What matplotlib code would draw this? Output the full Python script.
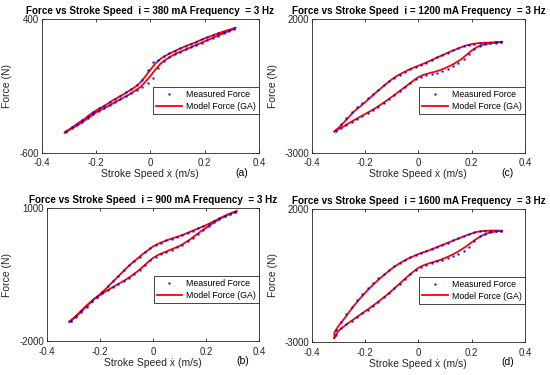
import matplotlib
matplotlib.use("Agg")
import matplotlib.pyplot as plt

plt.rcParams['font.family'] = ['Liberation Sans', 'DejaVu Sans']

# stroke speed grids (m/s)
speed_model = [-0.315, -0.30, -0.28, -0.26, -0.24, -0.22, -0.20, -0.18, -0.16, -0.14, -0.12,
               -0.10, -0.08, -0.06, -0.04, -0.02, 0.00, 0.02, 0.04, 0.06, 0.08, 0.10,
               0.12, 0.14, 0.16, 0.18, 0.20, 0.22, 0.24, 0.26, 0.28, 0.30, 0.315]
speed_meas = [-0.31, -0.29, -0.27, -0.25, -0.23, -0.21, -0.19, -0.17, -0.15, -0.13, -0.11,
              -0.09, -0.07, -0.05, -0.03, -0.01, 0.01, 0.03, 0.05, 0.07, 0.09, 0.11,
              0.13, 0.15, 0.17, 0.19, 0.21, 0.23, 0.25, 0.27, 0.29, 0.31]

# (a) i = 380 mA
model_up_a = [-450, -428, -400, -372, -345, -312, -285, -262, -238, -212, -188,
              -165, -140, -115, -82, -35, 20, 70, 105, 130, 150, 170,
              188, 205, 220, 238, 255, 270, 285, 300, 313, 325, 335]
model_lo_a = [-450, -433, -410, -385, -358, -330, -300, -278, -258, -235, -212,
              -190, -168, -142, -115, -75, -28, 25, 70, 100, 125, 145,
              163, 180, 198, 215, 232, 250, 268, 285, 302, 318, 335]
meas_up_a = [-440, -412, -385, -355, -325, -296, -270, -248, -222, -198, -175,
             -150, -125, -95, -55, 20, 75, 95, 120, 142, 162, 180,
             198, 212, 230, 248, 262, 278, 292, 306, 318, 330]
meas_lo_a = [-444, -420, -395, -368, -342, -312, -288, -266, -245, -222, -200,
             -178, -152, -130, -112, -80, -40, 30, 85, 112, 135, 155,
             172, 190, 205, 222, 240, 258, 276, 294, 310, 326]

# (c) i = 1200 mA
model_up_c = [-2210, -2080, -1880, -1660, -1450, -1290, -1120, -940, -760, -590, -420,
              -265, -130, -20, 80, 170, 250, 330, 420, 510, 600, 690,
              780, 860, 940, 1010, 1060, 1090, 1105, 1115, 1125, 1135, 1150]
model_lo_c = [-2210, -2130, -2020, -1900, -1780, -1670, -1560, -1450, -1330, -1200, -1060,
              -920, -770, -620, -470, -320, -180, -90, -30, 20, 80, 160,
              250, 360, 490, 650, 820, 950, 1030, 1075, 1105, 1130, 1150]
meas_up_c = [-2150, -1950, -1720, -1500, -1300, -1130, -960, -800, -640, -490, -340,
             -200, -80, 30, 120, 200, 280, 370, 460, 560, 650, 740,
             830, 910, 980, 1040, 1080, 1100, 1110, 1120, 1130, 1145]
meas_lo_c = [-2190, -2090, -1980, -1860, -1740, -1630, -1520, -1400, -1280, -1140, -1000,
             -850, -700, -550, -400, -250, -170, -110, -60, -10, 60, 140,
             240, 360, 500, 700, 880, 990, 1050, 1090, 1115, 1140]

# (b) i = 900 mA
model_up_b = [-1560, -1490, -1390, -1270, -1150, -1040, -940, -830, -710, -590, -470,
              -350, -240, -140, -40, 50, 140, 200, 250, 295, 335, 375,
              420, 470, 520, 570, 620, 680, 740, 800, 855, 900, 935]
model_lo_b = [-1560, -1480, -1370, -1250, -1140, -1040, -960, -880, -810, -740, -670,
              -600, -520, -430, -330, -220, -120, -50, 0, 50, 100, 150,
              220, 300, 390, 480, 560, 640, 720, 790, 850, 900, 935]
meas_up_b = [-1540, -1460, -1340, -1220, -1100, -990, -880, -760, -640, -520, -400,
             -290, -190, -90, 10, 100, 170, 225, 275, 315, 355, 395,
             445, 495, 545, 595, 650, 710, 770, 830, 880, 920]
meas_lo_b = [-1545, -1440, -1320, -1200, -1090, -1000, -920, -850, -780, -710, -640,
             -565, -480, -385, -280, -170, -90, -30, 20, 70, 120, 180,
             255, 340, 430, 520, 600, 680, 755, 820, 875, 915]

# (d) i = 1600 mA
model_up_d = [-2650, -2400, -2150, -1880, -1620, -1380, -1160, -950, -760, -580, -410,
              -250, -110, 10, 120, 210, 300, 370, 440, 520, 600, 680,
              760, 840, 920, 1000, 1070, 1130, 1160, 1175, 1180, 1180, 1170]
model_lo_d = [-2850, -2580, -2420, -2270, -2130, -1990, -1850, -1710, -1560, -1410, -1250,
              -1080, -900, -720, -540, -370, -220, -120, -50, 10, 70, 150,
              240, 340, 460, 590, 740, 880, 1000, 1080, 1130, 1160, 1170]
meas_up_d = [-2550, -2250, -1950, -1680, -1420, -1190, -980, -790, -610, -450, -300,
             -160, -40, 70, 170, 260, 340, 410, 490, 570, 650, 730,
             810, 890, 970, 1040, 1110, 1150, 1170, 1180, 1180, 1175]
meas_lo_d = [-2720, -2490, -2340, -2200, -2060, -1920, -1790, -1640, -1490, -1330, -1170,
             -990, -810, -630, -450, -300, -180, -100, -30, 30, 90, 160,
             230, 310, 420, 580, 800, 960, 1060, 1110, 1150, 1165]

panels = [
    ("380", (-600, 400), "(a)", [0.0758, 0.5933, 0.395, 0.356], -0.137, model_up_a, model_lo_a, meas_up_a, meas_lo_a),
    ("1200", (-3000, 2000), "(c)", [0.5667, 0.5933, 0.3878, 0.356], -0.16, model_up_c, model_lo_c, meas_up_c, meas_lo_c),
    ("900", (-2000, 1000), "(b)", [0.0849, 0.0899, 0.3865, 0.3547], -0.165, model_up_b, model_lo_b, meas_up_b, meas_lo_b),
    ("1600", (-3000, 2000), "(d)", [0.5667, 0.088, 0.3878, 0.3555], -0.16, model_up_d, model_lo_d, meas_up_d, meas_lo_d),
]

fig = plt.figure(figsize=(5.5, 3.75), dpi=100)

for cur, ylim, tag, pos, ylab_x, mu, ml, su, sl in panels:
    ax = fig.add_axes(pos)
    mx = speed_model + speed_model[::-1] + speed_model[:1]
    my = ml + mu[::-1] + ml[:1]
    sx = speed_meas + speed_meas[::-1]
    sy = sl + su[::-1]
    ax.plot(sx, sy, ls='none', marker='s', ms=2.0, mec='none', color='#0000ff',
            label='Measured Force', zorder=3)
    ax.plot(mx, my, color='#ff0000', lw=1.3, label='Model Force (GA)', zorder=2)
    ax.set_xlim(-0.4, 0.4)
    ax.set_ylim(*ylim)
    ax.set_xticks([-0.4, -0.2, 0, 0.2, 0.4])
    ax.set_xticklabels(['-0.4', '-0.2', '0', '0.2', '0.4'])
    ax.set_yticks(list(ylim))
    ax.set_yticklabels([str(v) for v in ylim])
    ax.tick_params(direction='in', top=True, right=True, length=2.5, width=0.6,
                   labelsize=7, colors='#262626', pad=2)
    ax.tick_params(axis='x', pad=4)
    for s in ax.spines.values():
        s.set_color('#262626')
        s.set_linewidth(0.6)
    ax.set_title('Force vs Stroke Speed  i = %s mA Frequency  = 3 Hz' % cur,
                 fontsize=7.1, fontweight='bold', pad=3.5)
    ax.set_xlabel('Stroke Speed \u1e8b (m/s)', fontsize=7.5, color='#262626', labelpad=1)
    ax.set_ylabel('Force (N)', fontsize=7.5, color='#262626')
    ax.yaxis.set_label_coords(ylab_x, 0.5)
    ax.text(0.92, -0.15, tag, transform=ax.transAxes, fontsize=7.5, ha='center', va='center')
    leg = ax.legend(loc='lower right', bbox_to_anchor=(1.0, 0.288), borderaxespad=0,
                    fontsize=6.3, handlelength=2.9, markerscale=1.0, fancybox=False,
                    framealpha=1, edgecolor='#262626', borderpad=0.35, labelspacing=0.3,
                    handletextpad=0.5)
    leg.get_frame().set_linewidth(0.6)
    leg.set_zorder(5)

fig.savefig('out.png', dpi=100)
